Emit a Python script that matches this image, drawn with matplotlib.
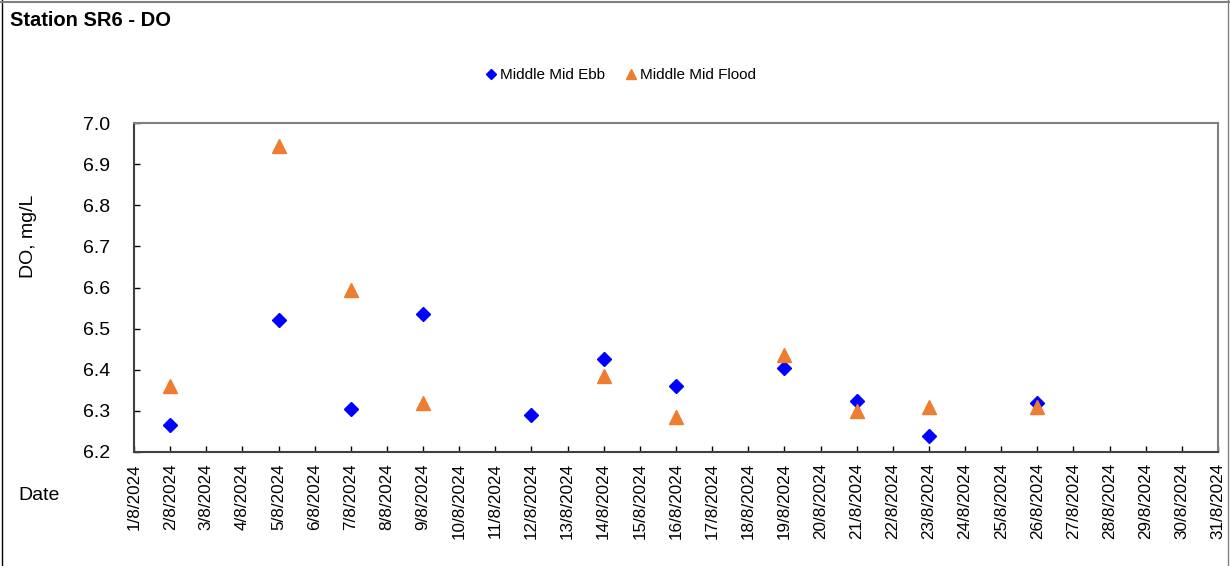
import pandas as pd
import matplotlib.pyplot as plt
from matplotlib.lines import Line2D

plt.rcParams['font.family'] = ['Liberation Sans', 'DejaVu Sans']

# readings (day of August 2024)
ebb_dates = ["2/8/2024", "5/8/2024", "7/8/2024", "9/8/2024", "12/8/2024", "14/8/2024",
             "16/8/2024", "19/8/2024", "21/8/2024", "23/8/2024", "26/8/2024"]
ebb_do = [6.265, 6.52, 6.305, 6.535, 6.29, 6.425, 6.36, 6.405, 6.325, 6.24, 6.32]

flood_dates = ["2/8/2024", "5/8/2024", "7/8/2024", "9/8/2024", "14/8/2024",
               "16/8/2024", "19/8/2024", "21/8/2024", "23/8/2024", "26/8/2024"]
flood_do = [6.36, 6.945, 6.595, 6.32, 6.385, 6.285, 6.435, 6.30, 6.31, 6.31]

ebb_x = pd.to_datetime(ebb_dates, format='%d/%m/%Y')
flood_x = pd.to_datetime(flood_dates, format='%d/%m/%Y')
all_days = pd.date_range('2024-08-01', '2024-08-31', freq='D')
day_labels = [f"{d.day}/{d.month}/{d.year}" for d in all_days]

fig = plt.figure(figsize=(12.3, 5.66), dpi=100)
ax = fig.add_axes([134 / 1230, 1 - 452 / 566, (1218 - 134) / 1230, (452 - 123) / 566])

ax.plot(ebb_x, ebb_do, linestyle='none', marker='D', markersize=7.5,
        color='#0000FF', label='Middle Mid Ebb')
ax.plot(flood_x, flood_do, linestyle='none', marker='^', markersize=9.5,
        color='#ED7D31', label='Middle Mid Flood')

ax.set_xlim(all_days[0], all_days[-1])
ax.set_ylim(6.2, 7.0)
ax.set_xticks(all_days)
ax.set_xticklabels(day_labels, rotation=90, fontsize=12.3)
ax.set_yticks([6.2, 6.3, 6.4, 6.5, 6.6, 6.7, 6.8, 6.9, 7.0])
ax.set_yticklabels([f"{v:.1f}" for v in ax.get_yticks()], fontsize=14)
ax.tick_params(direction='in', length=4, width=1, color='black')
ax.tick_params(axis='x', pad=8)
ax.tick_params(axis='y', pad=17)

for side in ['top', 'right']:
    ax.spines[side].set_color('#808080')
    ax.spines[side].set_linewidth(1.5)
for side in ['left', 'bottom']:
    ax.spines[side].set_color('#404040')
    ax.spines[side].set_linewidth(1.5)

ax.set_ylabel('DO, mg/L', fontsize=14)
ax.yaxis.set_label_coords(-0.0895, 0.657)

fig.text(10 / 1230, 1 - 20 / 566, 'Station SR6 - DO', fontsize=14.5,
         fontweight='bold', va='center', ha='left')
fig.text(18 / 1230, 1 - 495 / 566, 'Date', fontsize=14, va='center', ha='left')

fig.legend(loc='center', bbox_to_anchor=(620 / 1230, 1 - 75 / 566), ncol=2,
           frameon=False, fontsize=11, handletextpad=0.1, columnspacing=1.2,
           markerscale=0.7, handlelength=1.0)

# chart border
fig.add_artist(Line2D([2 / 1230, 2 / 1230], [0, 1], transform=fig.transFigure,
                      color='black', linewidth=1))
fig.add_artist(Line2D([0, 1], [1 - 1.5 / 566, 1 - 1.5 / 566], transform=fig.transFigure,
                      color='#808080', linewidth=1.5))
fig.add_artist(Line2D([1228 / 1230, 1228 / 1230], [0, 1], transform=fig.transFigure,
                      color='#808080', linewidth=1))

fig.savefig('out.png', dpi=100)
